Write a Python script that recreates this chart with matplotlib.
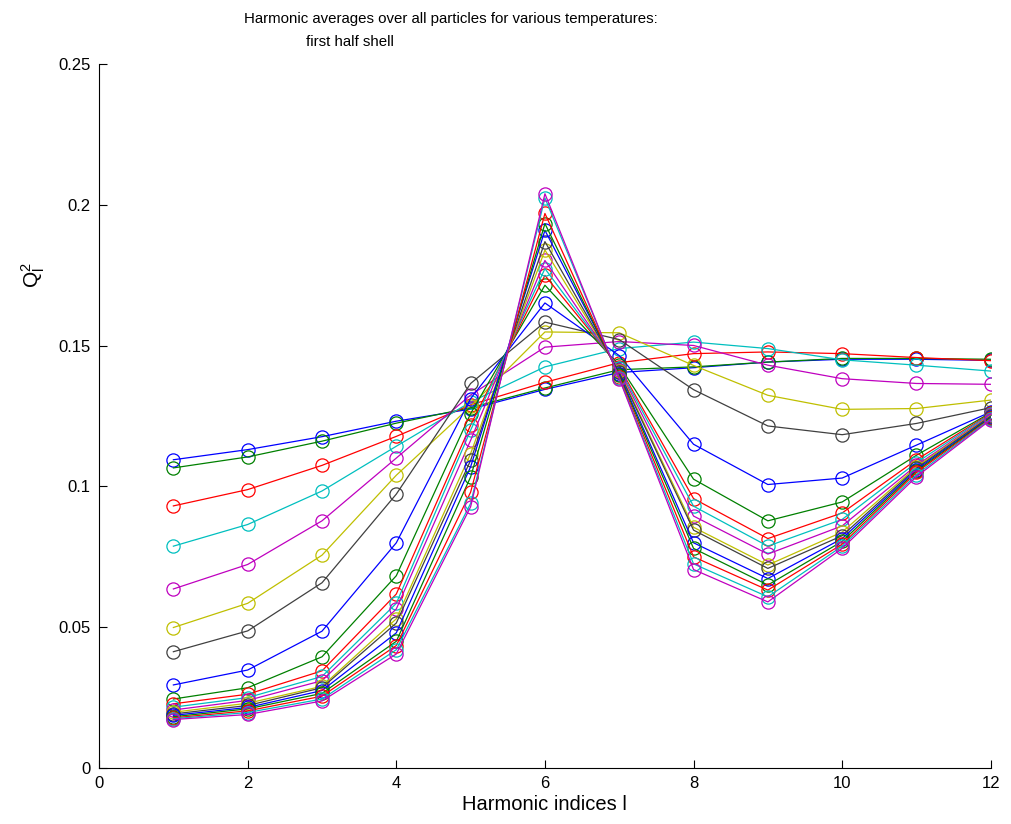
"""
plot.py -- harmonic averages Q_l^2 per temperature, first half shell.
Saves out.png.
"""
import matplotlib
matplotlib.use("Agg")
import matplotlib.pyplot as plt

plt.rcParams["font.family"] = ["Liberation Sans", "DejaVu Sans"]
plt.rcParams["mathtext.fontset"] = "custom"
plt.rcParams["mathtext.rm"] = "Liberation Sans"
plt.rcParams["mathtext.it"] = "Liberation Sans"

harmonics = [1, 2, 3, 4, 5, 6, 7, 8, 9, 10, 11, 12]

# one list per temperature, hottest first
t01 = [0.1095, 0.1131, 0.1177, 0.1232, 0.1275, 0.1345, 0.1405, 0.1422, 0.1442, 0.1452, 0.1452, 0.1448]
t02 = [0.1066, 0.1105, 0.1161, 0.1225, 0.1280, 0.1350, 0.1415, 0.1425, 0.1442, 0.1455, 0.1455, 0.1452]
t03 = [0.0931, 0.0989, 0.1075, 0.1178, 0.1290, 0.1370, 0.1440, 0.1472, 0.1478, 0.1472, 0.1458, 0.1447]
t04 = [0.0788, 0.0865, 0.0984, 0.1143, 0.1300, 0.1425, 0.1490, 0.1513, 0.1490, 0.1450, 0.1431, 0.1410]
t05 = [0.0636, 0.0723, 0.0878, 0.1101, 0.1325, 0.1495, 0.1515, 0.1501, 0.1431, 0.1383, 0.1366, 0.1363]
t06 = [0.0499, 0.0585, 0.0756, 0.1040, 0.1285, 0.1549, 0.1546, 0.1430, 0.1324, 0.1274, 0.1277, 0.1307]
t07 = [0.0413, 0.0487, 0.0658, 0.0973, 0.1366, 0.1584, 0.1522, 0.1344, 0.1215, 0.1184, 0.1224, 0.1280]
t08 = [0.0295, 0.0348, 0.0486, 0.0800, 0.1312, 0.1652, 0.1465, 0.1150, 0.1007, 0.1030, 0.1147, 0.1265]
t09 = [0.0245, 0.0285, 0.0395, 0.0683, 0.1259, 0.1715, 0.1430, 0.1026, 0.0878, 0.0945, 0.1111, 0.1262]
t10 = [0.0228, 0.0262, 0.0345, 0.0618, 0.1218, 0.1750, 0.1425, 0.0957, 0.0815, 0.0906, 0.1095, 0.1260]
t11 = [0.0216, 0.0250, 0.0325, 0.0585, 0.1200, 0.1774, 0.1420, 0.0930, 0.0788, 0.0883, 0.1085, 0.1258]
t12 = [0.0206, 0.0240, 0.0310, 0.0565, 0.1164, 0.1803, 0.1415, 0.0895, 0.0760, 0.0860, 0.1075, 0.1255]
t13 = [0.0198, 0.0230, 0.0290, 0.0530, 0.1117, 0.1840, 0.1410, 0.0855, 0.0721, 0.0838, 0.1070, 0.1252]
t14 = [0.0192, 0.0222, 0.0285, 0.0515, 0.1093, 0.1870, 0.1405, 0.0845, 0.0709, 0.0825, 0.1065, 0.1250]
t15 = [0.0187, 0.0215, 0.0275, 0.0480, 0.1070, 0.1910, 0.1400, 0.0800, 0.0673, 0.0815, 0.1060, 0.1247]
t16 = [0.0182, 0.0210, 0.0265, 0.0450, 0.1034, 0.1934, 0.1395, 0.0780, 0.0650, 0.0805, 0.1055, 0.1245]
t17 = [0.0178, 0.0203, 0.0255, 0.0435, 0.0980, 0.1970, 0.1390, 0.0750, 0.0632, 0.0795, 0.1050, 0.1242]
t18 = [0.0175, 0.0197, 0.0245, 0.0420, 0.0940, 0.2025, 0.1385, 0.0725, 0.0608, 0.0788, 0.1042, 0.1240]
t19 = [0.0172, 0.0190, 0.0238, 0.0405, 0.0928, 0.2040, 0.1383, 0.0705, 0.0590, 0.0780, 0.1035, 0.1237]

series = [t01, t02, t03, t04, t05, t06, t07, t08, t09, t10,
          t11, t12, t13, t14, t15, t16, t17, t18, t19]

# matlab's old default colour order
colours = [(0, 0, 1), (0, 0.5, 0), (1, 0, 0), (0, 0.75, 0.75),
           (0.75, 0, 0.75), (0.75, 0.75, 0), (0.25, 0.25, 0.25)]

xticks = [0, 2, 4, 6, 8, 10, 12]
yticks = [0, 0.05, 0.1, 0.15, 0.2, 0.25]
ytick_labels = ["0", "0.05", "0.1", "0.15", "0.2", "0.25"]

fig = plt.figure(figsize=(10.11, 8.24), dpi=100)
ax = fig.add_axes([0.098, 0.068, 0.882, 0.854])

for i, vals in enumerate(series):
    ax.plot(harmonics, vals, color=colours[i % len(colours)], lw=0.9,
            marker="o", ms=9.5, mfc="none", mew=0.9)

ax.set_xlim(0, 12)
ax.set_ylim(0, 0.25)
ax.set_xticks(xticks)
ax.set_yticks(yticks)
ax.set_yticklabels(ytick_labels)
ax.tick_params(direction="in", length=6, width=0.8, labelsize=12, pad=6)
ax.spines["top"].set_visible(False)
ax.spines["right"].set_visible(False)
ax.set_xlabel("Harmonic indices l", fontsize=14.5, labelpad=3)
ax.set_ylabel(r"$\mathrm{Q}_\mathrm{l}^2$", fontsize=15)
ax.yaxis.set_label_coords(-0.058, 0.7)

fig.text(0.446, 0.985, "Harmonic averages over all particles for various temperatures:",
         ha="center", va="top", fontsize=10.8)
fig.text(0.303, 0.958, "first half shell", ha="left", va="top", fontsize=10.8)

fig.savefig("out.png", dpi=100)
